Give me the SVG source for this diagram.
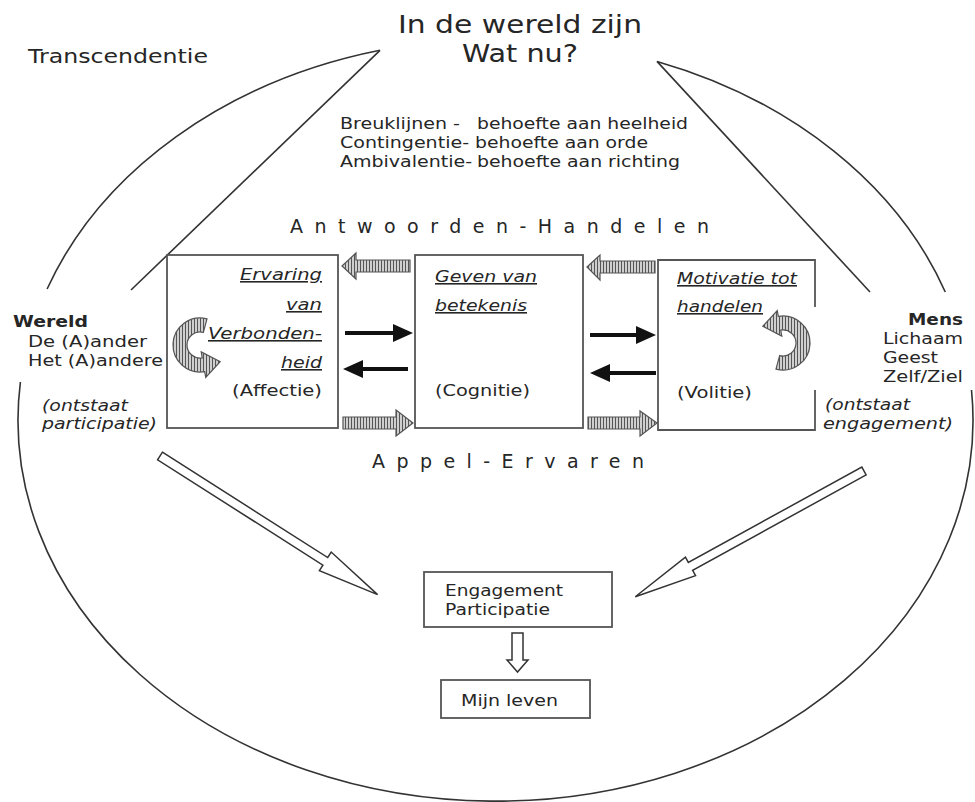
<svg xmlns="http://www.w3.org/2000/svg" width="975" height="802" viewBox="0 0 975 802">
<defs>
<style>
.t{font-family:"DejaVu Sans","Liberation Sans",sans-serif;fill:#262626}
.it{font-style:italic}
.u{text-decoration:underline}
.b{font-weight:bold}
.line{fill:none;stroke:#333;stroke-width:1.6}
.box{fill:#fff;stroke:#555;stroke-width:1.8}
.hatch{fill:url(#hatch);stroke:#555;stroke-width:1.2}
.solid{fill:#111}
.big{fill:#fff;stroke:#333;stroke-width:1.5}
</style>
<pattern id="hatch" width="3" height="3" patternUnits="userSpaceOnUse"><rect width="3" height="3" fill="#cfcfcf"/><rect width="1" height="3" fill="#555"/></pattern>
<path id="curl" d="M3.36,-12.56 L6.99,-26.08 A27 27 0 1 0 4.69,26.59 L5.73,32.5 L20.21,16.75 L1.22,6.89 L2.26,12.8 A13 13 0 1 1 3.36,-12.56 Z"/>
</defs>
<rect width="975" height="802" fill="#fff"/>

<g id="outline">
<path class="line" d="M380,50.3 A477.5 381 0 0 0 47.1,289"/>
<path class="line" d="M20.4,382 A477.5 381 0 1 0 971.5,390"/>
<path class="line" d="M657,61.4 A477.5 381 0 0 1 945.3,292"/>
<path class="line" d="M380,50.3 L131,290"/>
<path class="line" d="M657,61.4 L870,292"/>
</g>

<g id="titel">
<text class="t" x="398" y="33" font-size="25" textLength="244" lengthAdjust="spacingAndGlyphs">In de wereld zijn</text>
<text class="t" x="462" y="62" font-size="25" textLength="116" lengthAdjust="spacingAndGlyphs">Wat nu?</text>
</g>
<g id="transcendentie">
<text class="t" x="28" y="63" font-size="19" textLength="180" lengthAdjust="spacingAndGlyphs">Transcendentie</text>
</g>
<g id="behoeften">
<text class="t" x="340" y="129" font-size="16" textLength="120" lengthAdjust="spacingAndGlyphs">Breuklijnen -</text>
<text class="t" x="477" y="129" font-size="16" textLength="211" lengthAdjust="spacingAndGlyphs">behoefte aan heelheid</text>
<text class="t" x="340" y="148" font-size="16" textLength="129" lengthAdjust="spacingAndGlyphs">Contingentie-</text>
<text class="t" x="475" y="148" font-size="16" textLength="173" lengthAdjust="spacingAndGlyphs">behoefte aan orde</text>
<text class="t" x="340" y="167" font-size="16" textLength="132" lengthAdjust="spacingAndGlyphs">Ambivalentie-</text>
<text class="t" x="477" y="167" font-size="16" textLength="203" lengthAdjust="spacingAndGlyphs">behoefte aan richting</text>
</g>
<g id="antwoorden">
<text class="t" x="290" y="233" font-size="19" textLength="419" lengthAdjust="spacing">Antwoorden-Handelen</text>
</g>
<g id="appel">
<text class="t" x="372" y="468" font-size="19" textLength="272" lengthAdjust="spacing">Appel-Ervaren</text>
</g>

<g id="box-affectie">
<rect class="box" x="167" y="255" width="171" height="173"/>
<text class="t it u" x="240" y="280" font-size="16" textLength="82" lengthAdjust="spacingAndGlyphs">Ervaring</text>
<text class="t it u" x="286" y="310" font-size="16" textLength="36" lengthAdjust="spacingAndGlyphs">van</text>
<text class="t it u" x="208" y="339" font-size="16" textLength="114" lengthAdjust="spacingAndGlyphs">Verbonden-</text>
<text class="t it u" x="281" y="368" font-size="16" textLength="41" lengthAdjust="spacingAndGlyphs">heid</text>
<text class="t" x="232" y="396" font-size="16" textLength="90" lengthAdjust="spacingAndGlyphs">(Affectie)</text>
<use href="#curl" class="hatch" transform="translate(200,345)"/>
</g>

<g id="box-cognitie">
<rect class="box" x="415" y="255" width="168" height="173"/>
<text class="t it u" x="435" y="282" font-size="16" textLength="102" lengthAdjust="spacingAndGlyphs">Geven van</text>
<text class="t it u" x="435" y="311" font-size="16" textLength="92" lengthAdjust="spacingAndGlyphs">betekenis</text>
<text class="t" x="435" y="396" font-size="16" textLength="95" lengthAdjust="spacingAndGlyphs">(Cognitie)</text>
</g>

<g id="box-volitie">
<rect x="658" y="260" width="157" height="170" fill="#fff"/>
<path class="box" fill="none" d="M815,307 L815,260 L658,260 L658,430 L815,430 L815,390"/>
<text class="t it u" x="677" y="284" font-size="16" textLength="120" lengthAdjust="spacingAndGlyphs">Motivatie tot</text>
<text class="t it u" x="677" y="312" font-size="16" textLength="86" lengthAdjust="spacingAndGlyphs">handelen</text>
<text class="t" x="677" y="398" font-size="16" textLength="75" lengthAdjust="spacingAndGlyphs">(Volitie)</text>
<use href="#curl" class="hatch" transform="translate(783,343) rotate(180)"/>
</g>

<g id="wereld">
<text class="t b" x="13" y="327" font-size="16" textLength="75" lengthAdjust="spacingAndGlyphs">Wereld</text>
<text class="t" x="28" y="347" font-size="16" textLength="119" lengthAdjust="spacingAndGlyphs">De (A)ander</text>
<text class="t" x="28" y="366" font-size="16" textLength="135" lengthAdjust="spacingAndGlyphs">Het (A)andere</text>
<text class="t it" x="42" y="411" font-size="16" textLength="86" lengthAdjust="spacingAndGlyphs">(ontstaat</text>
<text class="t it" x="42" y="429" font-size="16" textLength="115" lengthAdjust="spacingAndGlyphs">participatie)</text>
</g>

<g id="mens">
<text class="t b" x="908" y="325" font-size="16" textLength="55" lengthAdjust="spacingAndGlyphs">Mens</text>
<text class="t" x="883" y="344" font-size="16" textLength="80" lengthAdjust="spacingAndGlyphs">Lichaam</text>
<text class="t" x="883" y="363" font-size="16" textLength="55" lengthAdjust="spacingAndGlyphs">Geest</text>
<text class="t" x="883" y="382" font-size="16" textLength="80" lengthAdjust="spacingAndGlyphs">Zelf/Ziel</text>
<text class="t it" x="825" y="410" font-size="16" textLength="85" lengthAdjust="spacingAndGlyphs">(ontstaat</text>
<text class="t it" x="823" y="429" font-size="16" textLength="130" lengthAdjust="spacingAndGlyphs">engagement)</text>
</g>

<g id="engagement">
<rect class="box" x="424" y="572" width="188" height="55"/>
<text class="t" x="445" y="596" font-size="15" textLength="118" lengthAdjust="spacingAndGlyphs">Engagement</text>
<text class="t" x="445" y="615" font-size="15" textLength="105" lengthAdjust="spacingAndGlyphs">Participatie</text>
</g>

<g id="mijn-leven">
<rect class="box" x="441" y="680" width="149" height="38"/>
<text class="t" x="461" y="706" font-size="15" textLength="97" lengthAdjust="spacingAndGlyphs">Mijn leven</text>
</g>

<g id="connectors">
<path class="hatch" d="M342,266 L356,253 L356,260 L410,260 L410,272 L356,272 L356,279 Z"/>
<path class="hatch" d="M343,417 L396,417 L396,410 L413,423 L396,436 L396,429 L343,429 Z"/>
<path class="hatch" d="M587,267 L600,255 L600,261 L655,261 L655,273 L600,273 L600,280 Z"/>
<path class="hatch" d="M588,417 L640,417 L640,411 L657,423 L640,436 L640,429 L588,429 Z"/>
<path class="solid" d="M345,331 L393,331 L393,324 L413,333 L393,342 L393,335 L345,335 Z"/>
<path class="solid" d="M408,367 L363,367 L363,360 L343,369 L363,378 L363,371 L408,371 Z"/>
<path class="solid" d="M590,333 L636,333 L636,326 L656,335 L636,344 L636,337 L590,337 Z"/>
<path class="solid" d="M656,371 L610,371 L610,364 L590,373 L610,382 L610,375 L656,375 Z"/>
<path class="big" transform="translate(160,456) rotate(32.5)" d="M0,-4.5 L196,-4.5 L196,-11 L258,0 L196,11 L196,4.5 L0,4.5 Z"/>
<path class="big" transform="translate(864,471) rotate(151.2)" d="M0,-4.5 L198,-4.5 L198,-10.5 L261,0 L198,10.5 L198,4.5 L0,4.5 Z"/>
<path class="big" d="M512,633 L523,633 L523,660 L528,660 L517.5,672 L507,660 L512,660 Z"/>
</g>
</svg>
